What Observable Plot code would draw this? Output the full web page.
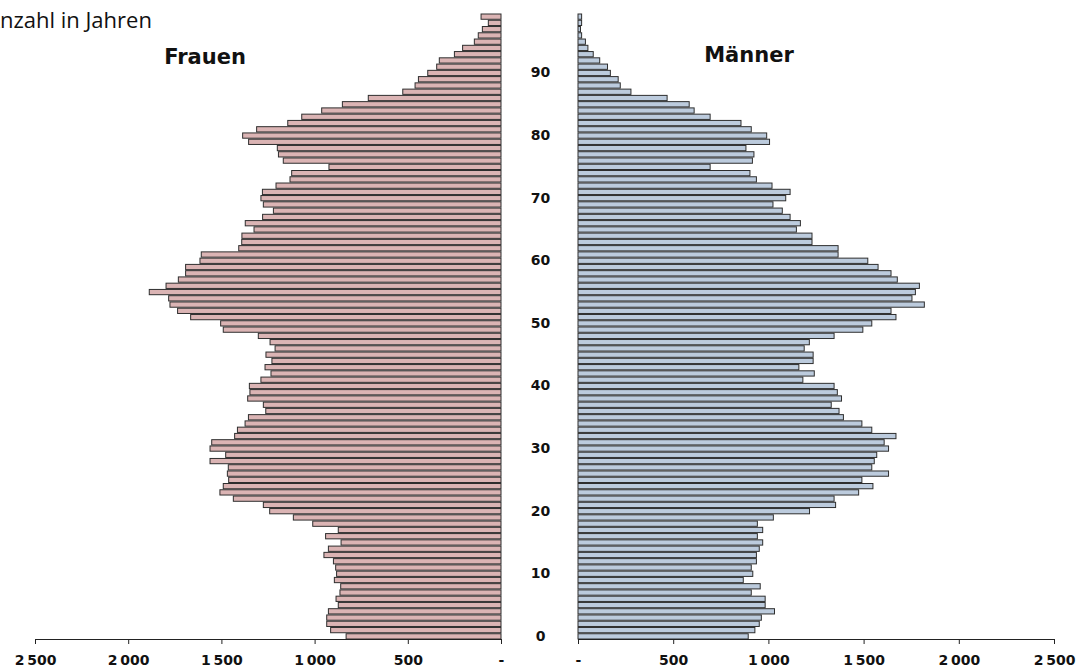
<!DOCTYPE html>
<html><head><meta charset="utf-8">
<script src="https://cdn.jsdelivr.net/npm/d3@7"></script>
<script src="https://cdn.jsdelivr.net/npm/@observablehq/plot@0.6"></script>
<style>
body{margin:0;background:#fff;}
#wrap{position:relative;width:1077px;height:671px;overflow:hidden;background:#fff;}
#wrap svg{position:absolute;top:0;overflow:visible;background:transparent;}
.ttl{position:absolute;font-family:"DejaVu Sans";font-weight:bold;font-size:21px;color:#111;transform:translate(-50%,-50%);white-space:nowrap;}
#cap{position:absolute;left:-14px;top:4px;font-family:"Open Sans";font-size:22px;line-height:30px;color:#111;white-space:nowrap;}
</style></head><body><div id="wrap"></div>
<script>
// Population by age (0..99)
const frauen = [831,914,935,935,926,873,885,864,860,894,
  882,887,899,950,926,858,941,873,1010,1114,
  1241,1275,1436,1508,1490,1461,1468,1463,1561,1477,
  1561,1552,1429,1414,1373,1355,1262,1275,1359,1347,
  1350,1288,1234,1266,1229,1261,1212,1239,1302,1490,
  1504,1665,1735,1776,1783,1887,1797,1731,1692,1692,
  1615,1608,1407,1391,1390,1325,1372,1279,1221,1275,
  1288,1280,1207,1132,1123,923,1168,1194,1200,1354,
  1386,1311,1144,1069,962,851,712,527,461,443,
  393,345,331,250,206,143,122,100,68,107];
const maenner = [894,929,952,963,1032,983,983,910,957,868,
  918,910,937,937,952,970,942,970,942,1026,
  1216,1353,1345,1474,1549,1491,1631,1543,1556,1569,
  1631,1608,1670,1543,1491,1394,1371,1330,1384,1362,
  1345,1181,1241,1160,1235,1235,1188,1215,1345,1496,
  1543,1670,1644,1819,1754,1772,1793,1677,1644,1576,
  1522,1366,1366,1229,1229,1147,1168,1114,1073,1024,
  1091,1114,1019,937,903,694,916,924,882,1006,
  991,910,856,694,610,584,468,278,222,211,
  170,155,114,80,52,39,19,13,19,19];
const xTicks = [0, 500, 1000, 1500, 2000, 2500];
const ageTicks = [0, 10, 20, 30, 40, 50, 60, 70, 80, 90];
const titleF = "Frauen", titleM = "Männer", caption = "Anzahl in Jahren";

const dataF = frauen.map((v, i) => ({age: i, value: v}));
const dataM = maenner.map((v, i) => ({age: i, value: v}));
const fmt = d => d === 0 ? "-" : d3.format(",")(d).replace(",", "\u2009");
const font = {fontFamily: "DejaVu Sans", fontSize: "14px", fontWeight: "bold", color: "#111", background: "transparent", overflow: "visible"};

const left = Plot.plot({
  width: 520, height: 671,
  marginLeft: 35, marginRight: 19, marginTop: 13, marginBottom: 32,
  x: {domain: [0, 2500], reverse: true, label: null},
  y: {domain: [0, 100], axis: null, label: null},
  style: font,
  marks: [
    Plot.rectX(dataF, {x: "value", y: "age", interval: 1, fill: "#dbb4b4", stroke: "#2e2e2e", strokeWidth: 1}),
    Plot.ruleY([0], {stroke: "#222"}),
    Plot.axisX({ticks: xTicks, tickFormat: fmt, tickSize: 5, tickPadding: 11, stroke: "#222", label: null})
  ]
});
const right = Plot.plot({
  width: 577, height: 671,
  marginLeft: 78, marginRight: 23, marginTop: 13, marginBottom: 32,
  x: {domain: [0, 2500], label: null},
  y: {domain: [0, 100], axis: null, label: null},
  style: font,
  marks: [
    Plot.rectX(dataM, {x: "value", y: "age", interval: 1, fill: "#bccbdd", stroke: "#2e2e2e", strokeWidth: 1}),
    Plot.ruleY([0], {stroke: "#222"}),
    Plot.axisX({ticks: xTicks, tickFormat: fmt, tickSize: 5, tickPadding: 11, stroke: "#222", label: null}),
    Plot.text(ageTicks, {x: 0, y: d => d + 0.5, dx: -38, text: d => String(d), textAnchor: "middle", fontSize: 14, fontWeight: "bold", fill: "#111"})
  ]
});
const wrap = document.getElementById("wrap");
left.style.left = "0px";
right.style.left = "500px";
wrap.appendChild(left);
wrap.appendChild(right);
const cap = document.createElement("div"); cap.id = "cap"; cap.textContent = caption; wrap.appendChild(cap);
const tf = document.createElement("div"); tf.className = "ttl"; tf.textContent = titleF; tf.style.left = "205px"; tf.style.top = "57px"; wrap.appendChild(tf);
const tm = document.createElement("div"); tm.className = "ttl"; tm.textContent = titleM; tm.style.left = "749px"; tm.style.top = "55px"; wrap.appendChild(tm);
</script></body></html>
